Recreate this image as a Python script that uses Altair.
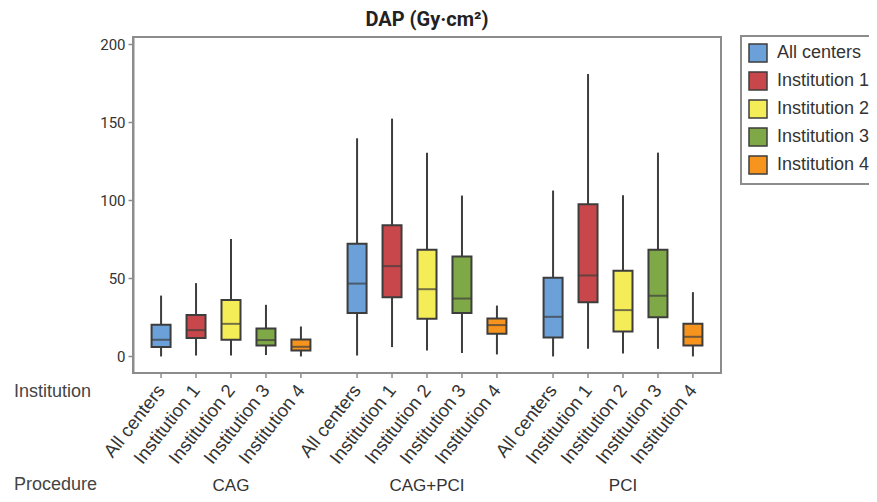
import altair as alt
import pandas as pd

procedures = ["CAG", "CAG+PCI", "PCI"]
institutions = ["All centers", "Institution 1", "Institution 2", "Institution 3", "Institution 4"]
colors = ["#6ca0d8", "#c8474b", "#f5ed58", "#7fa846", "#f7941e"]
row_headers = ["Institution", "Procedure"]

# order: CAG x5, CAG+PCI x5, PCI x5 (institutions in legend order)
whisker_low = [0, 0.6, 0.6, 0.9, 0, 0.6, 6.0, 3.8, 2.2, 1.3, 0, 4.9, 1.9, 4.9, 0]
q1 = [6.0, 11.8, 10.7, 7.0, 3.8, 27.8, 38.0, 24.1, 27.8, 14.5, 12.2, 34.8, 16.0, 25.2, 7.0]
median = [10.7, 16.9, 20.9, 10.5, 6.2, 46.7, 57.9, 43.1, 37.1, 20.1, 25.4, 51.9, 29.7, 38.9, 12.6]
q3 = [20.3, 26.5, 36.1, 17.9, 10.9, 72.3, 84.1, 68.3, 64.0, 24.3, 50.4, 97.6, 54.9, 68.3, 20.9]
whisker_high = [39.0, 47.0, 75.2, 33.1, 19.2, 139.8, 152.4, 130.6, 103.1, 32.6, 106.3, 181.0, 103.3, 130.6, 41.2]
y_ticks = [0, 50, 100, 150, 200]

rows = []
k = 0
for p in procedures:
    for inst in institutions:
        rows.append({"Procedure": p, "Institution": inst, "low": whisker_low[k], "q1": q1[k],
                     "median": median[k], "q3": q3[k], "high": whisker_high[k]})
        k += 1
df = pd.DataFrame(rows)

NARROW = "Roboto, sans-serif"
SANS = "Liberation Sans, Arial, sans-serif"
DARK = "#3d3d3d"
GRAY = "#8c8c8c"

yscale = alt.Scale(domain=[-10.6, 204.7], nice=False, zero=False)

base = alt.Chart(df).encode(
    x=alt.X("Procedure:N",
            scale=alt.Scale(domain=procedures, paddingInner=0.108, paddingOuter=0.054),
            axis=alt.Axis(title=None, labelAngle=0, ticks=False, tickSize=0, domain=False,
                          labelPadding=117, labelBaseline="alphabetic", labelFontSize=17,
                          labelFont=SANS, labelColor="#333333")),
    xOffset=alt.XOffset("Institution:N",
                        scale=alt.Scale(domain=institutions, paddingInner=0, paddingOuter=0)),
)

whisk = base.mark_rule(color=DARK, strokeWidth=2).encode(
    y=alt.Y("low:Q", scale=yscale,
            axis=alt.Axis(title=None, values=y_ticks, grid=False, tickSize=5, tickColor=GRAY,
                          tickWidth=1.5, domainColor=GRAY, domainWidth=2, labelFont=NARROW,
                          labelFontSize=15, labelColor="#333333", labelPadding=3)),
    y2="high:Q",
)

box = base.mark_bar(size=19, stroke=DARK, strokeWidth=2).encode(
    y="q1:Q",
    y2="q3:Q",
    color=alt.Color("Institution:N",
                    scale=alt.Scale(domain=institutions, range=colors),
                    legend=alt.Legend(title=None, orient="none", legendX=608, legendY=-1,
                                      symbolType="square", symbolSize=324,
                                      symbolStrokeColor=DARK, symbolStrokeWidth=1.5,
                                      symbolOpacity=1,
                                      labelFont=SANS, labelFontSize=18, labelColor="#333333",
                                      labelOffset=9, rowPadding=4, padding=7,
                                      strokeColor=GRAY, fillColor="white")),
)

med = base.mark_tick(color=DARK, size=19, thickness=2).encode(y="median:Q")

xticks = base.mark_rule(color=GRAY, strokeWidth=1.5).encode(
    y=alt.value(336), y2=alt.value(341))

inst_labels = base.mark_text(angle=308, align="right", baseline="middle", fontSize=18.5,
                             font=SANS, color="#333333").encode(
    y=alt.value(350), text="Institution:N")

hdr_df = pd.DataFrame({"label": row_headers})
hdr1 = alt.Chart(hdr_df).transform_filter(alt.datum.label == "Institution").mark_text(
    align="left", baseline="alphabetic", fontSize=18, font=SANS, color="#444444").encode(
    x=alt.value(-119), y=alt.value(360), text="label:N")
hdr2 = alt.Chart(hdr_df).transform_filter(alt.datum.label == "Procedure").mark_text(
    align="left", baseline="alphabetic", fontSize=18, font=SANS, color="#444444").encode(
    x=alt.value(-119), y=alt.value(453), text="label:N")

chart = alt.layer(whisk, box, med, xticks, inst_labels, hdr1, hdr2).properties(
    width=588, height=336,
    title=alt.Title("DAP (Gy·cm²)", font=NARROW, fontSize=20, fontWeight="bold",
                    color="#222222", anchor="middle", offset=5),
    autosize=alt.AutoSizeParams(type="none"),
    padding={"left": 125, "top": 29, "right": 148, "bottom": 121},
).configure_view(stroke=GRAY, strokeWidth=2).configure_legend(strokeWidth=2)

chart.save("out.html", embed_options={"renderer": "svg", "actions": False})
